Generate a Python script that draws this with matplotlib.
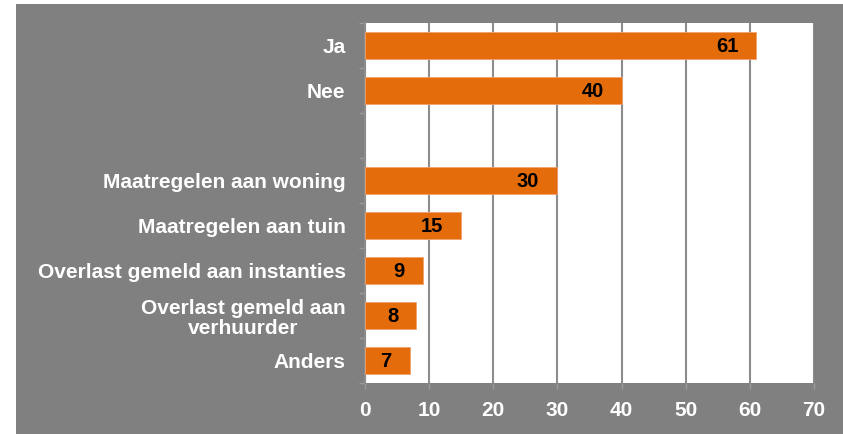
import matplotlib
matplotlib.use("Agg")
import matplotlib.pyplot as plt

categories = ["Ja", "Nee", "", "Maatregelen aan woning", "Maatregelen aan tuin",
              "Overlast gemeld aan instanties", "Overlast gemeld aan\nverhuurder", "Anders"]
values = [61, 40, None, 30, 15, 9, 8, 7]
xticks = [0, 10, 20, 30, 40, 50, 60, 70]

plt.rcParams['font.family'] = ['Liberation Sans', 'DejaVu Sans']
W, H = 843, 434
fig = plt.figure(figsize=(W/100, H/100), dpi=100)
fig.patch.set_facecolor('white')
# gray background panel
bg = matplotlib.patches.Rectangle((16/W, 0), 1 - 16/W, 1 - 4/H,
                   transform=fig.transFigure, facecolor='#808080', edgecolor='none', zorder=-10)
fig.add_artist(bg)

ax = fig.add_axes([365/W, 1 - 383/H, (814-365)/W, (383-23)/H])
ax.set_zorder(5)
ax.set_facecolor('white')
n = len(categories)
ys = list(range(n))
for y, v in zip(ys, values):
    if v is None:
        continue
    ax.barh(y, v, height=0.58, color='#E46C0A', edgecolor='#F0A070', linewidth=0.6, zorder=3)
    ax.annotate(str(v), (v, y), xytext=(-13, -1), textcoords='offset points',
                ha='right', va='center', fontsize=14.5, fontweight='bold', color='black', zorder=4)
ax.set_ylim(n - 0.5, -0.5)
ax.set_xlim(0, 70)
ax.set_xticks(xticks)
ax.set_xticklabels([str(t) for t in xticks])
ax.set_yticks([i + 0.5 for i in range(-1, n)], minor=True)
ax.set_yticks(ys)
ax.set_yticklabels(categories, ha='right', multialignment='center', linespacing=1.1)
ax.grid(axis='x', color='#8C8C8C', linewidth=1.5, zorder=1)
ax.set_axisbelow(True)
for s in ['top', 'right', 'bottom']:
    ax.spines[s].set_visible(False)
ax.spines['left'].set_color('#8C8C8C')
ax.spines['left'].set_linewidth(1.5)
ax.tick_params(axis='y', which='major', length=0, pad=14, labelsize=15, labelcolor='white')
ax.tick_params(axis='y', which='minor', length=4, color='#9A9A9A', width=1)
ax.tick_params(axis='x', length=4, color='#9A9A9A', width=1, pad=9, labelsize=15, labelcolor='white')
for lab in ax.get_yticklabels() + ax.get_xticklabels():
    lab.set_fontweight('bold')

fig.savefig("out.png", dpi=100, facecolor=fig.get_facecolor())
